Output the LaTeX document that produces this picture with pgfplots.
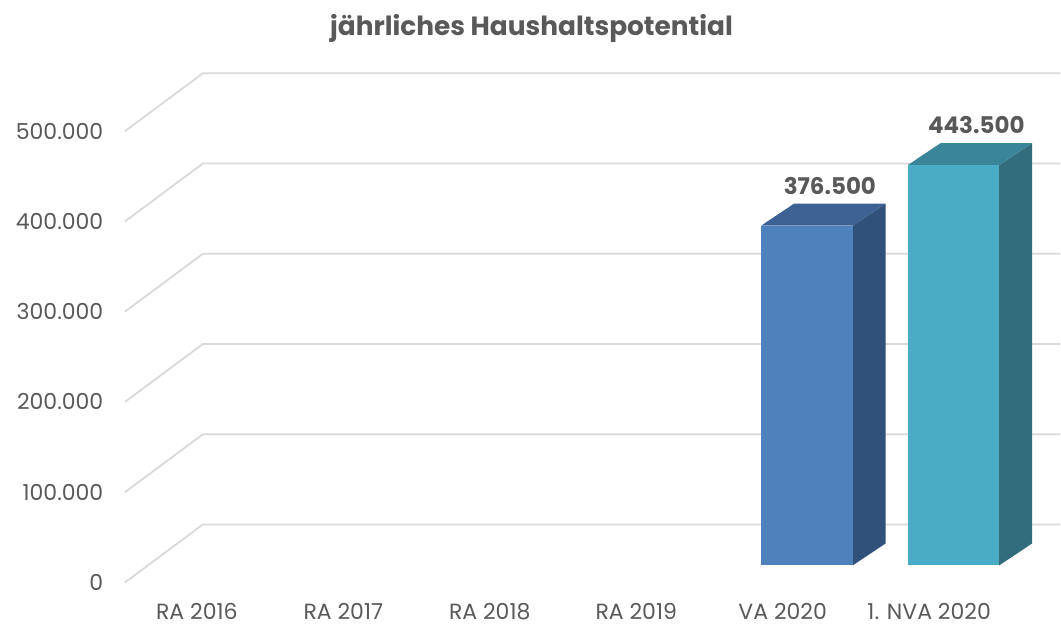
\documentclass[border=0pt]{standalone}
\usepackage{pgfplots}
\pgfplotsset{compat=1.18}
\usepackage{pgfplotstable}
\usepackage{fontspec}
\setmainfont{Poppins}

\definecolor{txt}{HTML}{595959}
\definecolor{gridc}{HTML}{D9D9D9}
\definecolor{vaF}{HTML}{4F81BD}
\definecolor{vaT}{HTML}{3C6394}
\definecolor{vaS}{HTML}{30517A}
\definecolor{nvF}{HTML}{4BACC6}
\definecolor{nvT}{HTML}{3A8599}
\definecolor{nvS}{HTML}{316D7C}

% values in thousands
\pgfplotstableread{
idx value
4 376.5
}\va
\pgfplotstableread{
idx value
5 443.5
}\nva

\begin{document}
\begin{tikzpicture}
\begin{axis}[
  scale only axis, width=468pt, height=254.5pt,
  xmin=-0.491, xmax=5.894, ymin=0, ymax=563.5,
  clip=false,
  axis line style={draw=none}, tick style={draw=none},
  font=\fontsize{11pt}{13pt}\selectfont,
  tick label style={text=txt},
  xtick={0,...,5},
  xticklabels={RA 2016, RA 2017, RA 2018, RA 2019, VA 2020, 1. NVA 2020},
  xticklabel style={yshift=-7pt},
  ytick={0,100,...,500},
  yticklabels={0, 100.000, 200.000, 300.000, 400.000, 500.000},
  yticklabel style={xshift=-7.3pt},
  bar width=0.625, bar shift=0.165,
  /pgf/number format/assume math mode=true,
  vals/.style={draw=none, mark=none, yshift=8.5pt,
    nodes near coords={\pgfmathprintnumber[fixed,zerofill,precision=3]{\pgfplotspointmeta}},
    every node near coord/.append style={font=\fontsize{11.5pt}{13pt}\selectfont\bfseries,
      text=txt, anchor=center, yshift=20pt}},
]
% walls
\draw[gridc, line width=0.9pt] (axis cs:-0.491,0) -- (axis cs:0.041,64.2) -- (axis cs:5.894,64.2);
\draw[gridc, line width=0.9pt] (axis cs:-0.491,100) -- (axis cs:0.041,164.2) -- (axis cs:5.894,164.2);
\draw[gridc, line width=0.9pt] (axis cs:-0.491,200) -- (axis cs:0.041,264.2) -- (axis cs:5.894,264.2);
\draw[gridc, line width=0.9pt] (axis cs:-0.491,300) -- (axis cs:0.041,364.2) -- (axis cs:5.894,364.2);
\draw[gridc, line width=0.9pt] (axis cs:-0.491,400) -- (axis cs:0.041,464.2) -- (axis cs:5.894,464.2);
\draw[gridc, line width=0.9pt] (axis cs:-0.491,500) -- (axis cs:0.041,564.2) -- (axis cs:5.894,564.2);

% VA 2020
\addplot[fill=vaS, draw=none, yshift=8.5pt] coordinates {(4.4775,0) (4.7025,24.4) (4.7025,400.9) (4.4775,376.5)} -- cycle;
\addplot[fill=vaT, draw=none, yshift=8.5pt] coordinates {(3.8525,376.5) (4.4775,376.5) (4.7025,400.9) (4.0775,400.9)} -- cycle;
\addplot[ybar, fill=vaF, draw=none, yshift=8.5pt] table[x=idx, y=value] {\va};
\addplot[vals] table[x expr=\thisrow{idx}+0.322, y=value] {\va};
% 1. NVA 2020
\addplot[fill=nvS, draw=none, yshift=8.5pt] coordinates {(5.4775,0) (5.7025,24.4) (5.7025,467.9) (5.4775,443.5)} -- cycle;
\addplot[fill=nvT, draw=none, yshift=8.5pt] coordinates {(4.8525,443.5) (5.4775,443.5) (5.7025,467.9) (5.0775,467.9)} -- cycle;
\addplot[ybar, fill=nvF, draw=none, yshift=8.5pt] table[x=idx, y=value] {\nva};
\addplot[vals] table[x expr=\thisrow{idx}+0.322, y=value] {\nva};

\node[text=txt, font=\fontsize{13.2pt}{16pt}\selectfont\bfseries] at (axis cs:2.285,614) {jährliches Haushaltspotential};
\path (axis cs:-1.344,-41.0) rectangle (axis cs:5.894,645.4);
\end{axis}
\end{tikzpicture}
\end{document}
